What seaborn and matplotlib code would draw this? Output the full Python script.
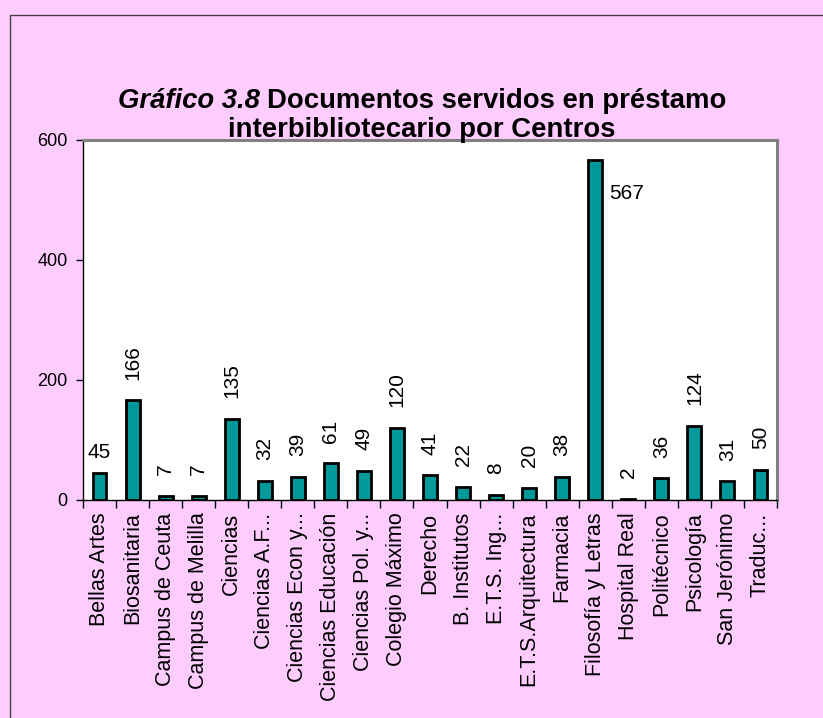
import numpy as np
import pandas as pd
import seaborn as sns
import matplotlib.pyplot as plt
from matplotlib.patches import Rectangle

# Data
centros = ["Bellas Artes", "Biosanitaria", "Campus de Ceuta", "Campus de Melilla",
           "Ciencias", "Ciencias A.F...", "Ciencias Econ y...", "Ciencias Educación",
           "Ciencias Pol. y...", "Colegio Máximo", "Derecho", "B. Institutos",
           "E.T.S. Ing...", "E.T.S.Arquitectura", "Farmacia", "Filosofía y Letras",
           "Hospital Real", "Politécnico", "Psicología", "San Jerónimo", "Traduc..."]
documentos = [45, 166, 7, 7, 135, 32, 39, 61, 49, 120, 41, 22, 8, 20, 38, 567,
              2, 36, 124, 31, 50]
yticks = [0, 200, 400, 600]

df = pd.DataFrame({"centro": centros, "docs": documentos})

PINK = "#FFCCFF"
TEAL = "#009999"

sns.set_style("white")
plt.rcParams["font.family"] = ["Liberation Sans", "DejaVu Sans"]
for k in ["text.color", "axes.labelcolor", "xtick.color", "ytick.color"]:
    plt.rcParams[k] = "black"

fig = plt.figure(figsize=(8.23, 7.18), dpi=100, facecolor=PINK)
# outer chart border (left/top visible only)
fig.patches.append(Rectangle((10 / 823, -0.1), 1.0, 1 - 15 / 718 + 0.1,
                             transform=fig.transFigure, fill=False,
                             edgecolor="#404040", linewidth=1.0))

ax = fig.add_axes([83 / 823, 1 - 500 / 718, 694 / 823, 360 / 718])
ax.set_facecolor("white")

sns.barplot(data=df, x="centro", y="docs", color=TEAL, edgecolor="black",
            linewidth=2, width=0.42, saturation=1, ax=ax)

ax.set_ylim(0, 600)
ax.set_xlim(-0.5, len(centros) - 0.5)
ax.set_yticks(yticks)
ax.tick_params(axis="y", labelsize=13, length=5, width=1, direction="out", left=True, pad=6)
ax.set_xticks(range(len(centros)))
ax.set_xticklabels(centros, rotation=90, fontsize=15.5)
ax.tick_params(axis="x", length=0, pad=9)
ax.set_xticks(np.arange(-0.5, len(centros)), minor=True)
ax.tick_params(axis="x", which="minor", length=6, width=1, direction="out", bottom=True)
ax.set_xlabel("")
ax.set_ylabel("")

for s in ["left", "bottom"]:
    ax.spines[s].set_color("black")
    ax.spines[s].set_linewidth(1)
for s in ["top", "right"]:
    ax.spines[s].set_color("#808080")
    ax.spines[s].set_linewidth(2.2)

# value labels
for i, v in enumerate(documentos):
    if v == max(documentos):
        ax.annotate(str(v), (i, v), xytext=(10, -24), textcoords="offset points",
                    ha="left", va="center", fontsize=15)
    elif i == 0:
        ax.annotate(str(v), (i, v), xytext=(0, 8), textcoords="offset points",
                    ha="center", va="bottom", fontsize=15)
    else:
        ax.annotate(str(v), (i, v), xytext=(0, 15), textcoords="offset points",
                    ha="center", va="bottom", rotation=90, fontsize=15)

# title: italic part + bold part on first line
renderer = fig.canvas.get_renderer()
cx = 422 / 823
y1 = 1 - 101 / 718
y2 = 1 - 130 / 718
t1 = fig.text(0, y1, "Gráfico 3.8 ", fontsize=19.8, fontweight="bold", fontstyle="italic",
              va="center", ha="left")
t2 = fig.text(0, y1, "Documentos servidos en préstamo", fontsize=19.8, fontweight="bold",
              va="center", ha="left")
w1 = t1.get_window_extent(renderer).width / fig.bbox.width
w2 = t2.get_window_extent(renderer).width / fig.bbox.width
x0 = cx - (w1 + w2) / 2
t1.set_x(x0)
t2.set_x(x0 + w1)
fig.text(cx, y2, "interbibliotecario por Centros", fontsize=19.8, fontweight="bold",
         va="center", ha="center")

fig.savefig("out.png", dpi=100, facecolor=PINK)
